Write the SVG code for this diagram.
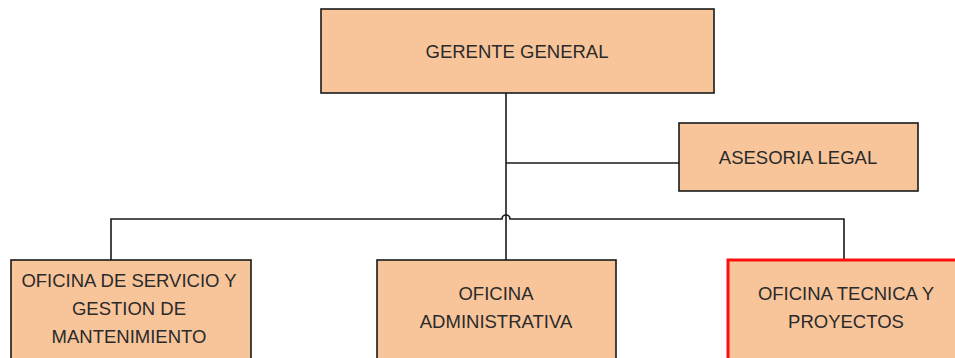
<svg xmlns="http://www.w3.org/2000/svg" width="955" height="358" viewBox="0 0 955 358">
<style>
.box{fill:#F8C59B;stroke:#1a1a1a;stroke-width:1.6}
.red{fill:#F8C59B;stroke:#FF1010;stroke-width:3}
.t{font-family:"Liberation Sans",Arial,sans-serif;font-size:18.5px;fill:#2a2a2a;text-anchor:middle}
.c{fill:none;stroke:#1a1a1a;stroke-width:1.6}
</style>
<rect width="955" height="358" fill="#ffffff"/>
<g id="connectors">
<path class="c" d="M506,93 V260"/>
<path class="c" d="M506,163 H679"/>
<path class="c" d="M111,260 V219 H502 A4,4 0 0 1 510,219 H844 V260"/>
</g>
<g id="gerente">
<rect class="box" x="321" y="9" width="393" height="84"/>
<text class="t" x="517" y="58">GERENTE GENERAL</text>
</g>
<g id="asesoria">
<rect class="box" x="679" y="123" width="239" height="68"/>
<text class="t" x="798" y="164">ASESORIA LEGAL</text>
</g>
<g id="oficina-servicio">
<rect class="box" x="11" y="260" width="240" height="110"/>
<text class="t" x="129" y="287">OFICINA DE SERVICIO Y</text>
<text class="t" x="129" y="315">GESTION DE</text>
<text class="t" x="129" y="343">MANTENIMIENTO</text>
</g>
<g id="oficina-administrativa">
<rect class="box" x="377" y="260" width="239" height="110"/>
<text class="t" x="496" y="300">OFICINA</text>
<text class="t" x="496" y="328">ADMINISTRATIVA</text>
</g>
<g id="oficina-tecnica">
<rect class="red" x="728" y="260" width="240" height="110"/>
<text class="t" x="846" y="300">OFICINA TECNICA Y</text>
<text class="t" x="846" y="328">PROYECTOS</text>
</g>
</svg>
